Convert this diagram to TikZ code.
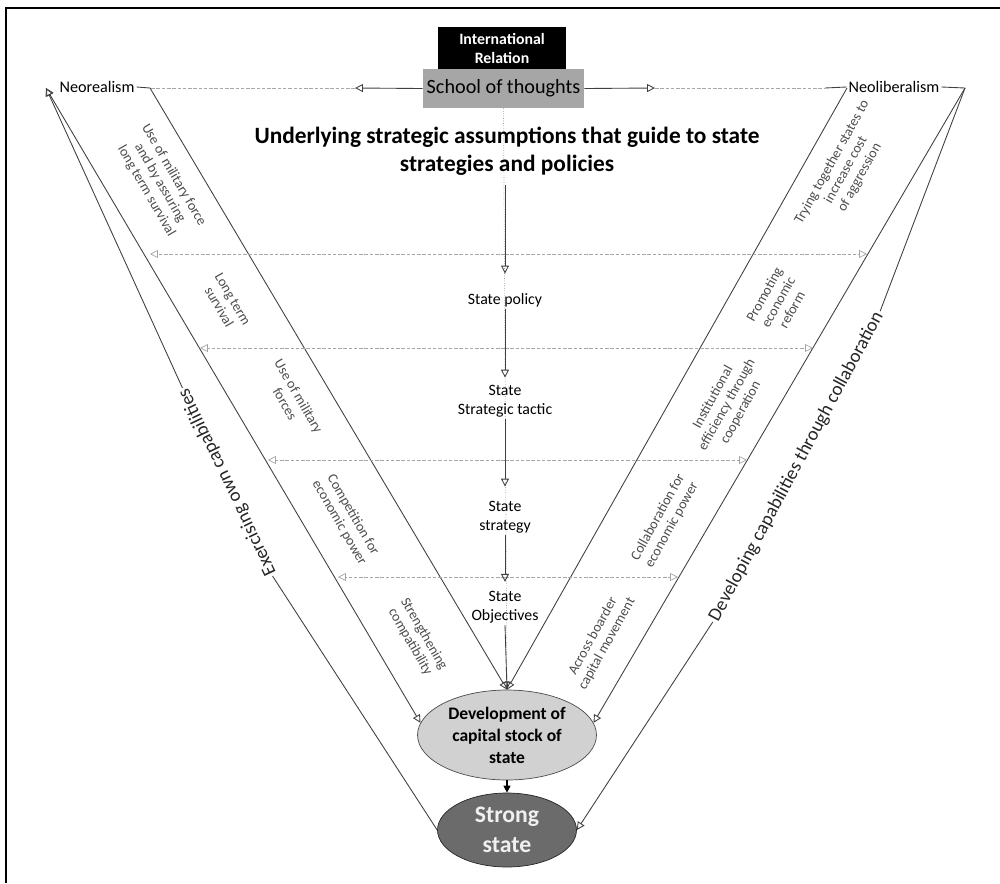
\documentclass[tikz,border=0pt]{standalone}
\usepackage{fontspec}
\setmainfont{Carlito}
\usepackage{tikz}
\usetikzlibrary{shapes,arrows,positioning,shapes.geometric,calc,arrows.meta}

\begin{document}
\begin{tikzpicture}[x=0.02cm, y=-0.02cm,
        conn/.style={draw=black!75, line width=0.5pt},
        tip/.style={-{Triangle[open, length=4.5pt, width=4.5pt]}},
        dashline/.style={draw=black!35, line width=0.4pt, dash pattern=on 2pt off 1pt},
        levelbox/.style={font=\fontsize{9}{10.8}\selectfont, align=center, inner sep=1pt},
        band/.style={font=\fontsize{8}{9}\selectfont, text=black!70, align=center, inner sep=1pt},
        bigband/.style={font=\fontsize{10.8}{13}\selectfont, text=black!85, inner sep=1pt},
        gap/.style={shorten >=#1}
    ]
            \useasboundingbox (0,0) rectangle (1000,883);
            \draw[line width=1.1pt] (6,883) -- (6,8) -- (1000,8);

            \node[fill=black, text=white, font=\bfseries\fontsize{9}{11.3}\selectfont, align=center, minimum width=2.56cm, minimum height=0.86cm, inner sep=0pt] (ir) at (502,48.5) {International\\Relation};
            \node[fill=black!35, font=\fontsize{11.5}{13}\selectfont, minimum width=3.22cm, minimum height=0.78cm, inner sep=0pt] (school) at (503.5,88.5) {School of thoughts};
            \node[font=\fontsize{9.2}{11}\selectfont, inner sep=1pt] (neoreal) at (97,87) {Neorealism};
            \node[font=\fontsize{9.2}{11}\selectfont, inner sep=1pt] (neolib) at (894,87) {Neoliberalism};

            \coordinate (nrL) at (46,88);
            \coordinate (nrR) at (150,88);
            \coordinate (nlL) at (847,88);
            \coordinate (nlR) at (965,88);
            \coordinate (sl) at (355,88);
            \coordinate (sr) at (655,88);
            \coordinate (nlA) at (825,88);
            \coordinate (top) at (505,185);

            \node[ellipse, draw=black!70, fill=black!18, minimum width=3.58cm, minimum height=1.8cm, inner sep=0pt, align=center, font=\bfseries\fontsize{10}{12.5}\selectfont] (capital) at (507,735) {Development of\\capital stock of\\state};
            \node[ellipse, draw=black!85, fill=black!58, text=white!94!black, minimum width=2.78cm, minimum height=1.48cm, inner sep=0pt, align=center, font=\bfseries\fontsize{13.5}{17}\selectfont] (strong) at (507,830) {Strong\\state};

            \draw[densely dotted, black!40] (school.south) -- (capital.north);

            \node[font=\bfseries\fontsize{13.3}{15.9}\selectfont, align=center] (assume) at (507,151) {Underlying strategic assumptions that guide to state\\strategies and policies};
            \node[levelbox] (policy) at (505,300) {State policy};
            \node[levelbox] (tactic) at (505,401) {State\\Strategic tactic};
            \node[levelbox] (strategy) at (505,517) {State\\strategy};
            \node[levelbox] (objective) at (505,607) {State\\Objectives};

            \node[band, rotate=-60] (force) at (160,183) {Use of military force\\and by assuring\\long term survival};
            \node[band, rotate=-60] (survive) at (226,303) {Long term\\survival};
            \node[band, rotate=-60] (military) at (292,400) {Use of military\\forces};
            \node[band, rotate=-60] (compete) at (346,519) {Competition for\\economic power};
            \node[band, rotate=-60] (strength) at (417,638) {Strengthening\\compatibility};

            \node[band, rotate=61] (trying) at (846,170) {Trying together states to\\increase cost\\of aggression};
            \node[band, rotate=61] (reform) at (778,302) {Promoting\\economic\\reform};
            \node[band, rotate=61] (institute) at (727,405) {Institutional\\efficiency through\\cooperation};
            \node[band, rotate=61] (collab) at (665,521) {Collaboration for\\economic power};
            \node[band, rotate=61] (border) at (600,640) {Across boarder\\capital movement};

            \node[bigband, rotate=115.6] (exercise) at (227.5,482) {Exercising own capabilities};
            \node[bigband, rotate=61.7] (develop) at (796.5,466.5) {Developing capabilities through collaboration};

            \draw[conn, tip] (school.west) -- (sl);
            \draw[dashline] (sl) -- (nrR);
            \draw[conn] (neoreal.east) -- (nrR);
            \draw[conn, tip] (school.east) -- (sr);
            \draw[dashline] (sr) -- (nlA);
            \draw[conn] (nlA) -- (neolib.west);
            \draw[conn] (neolib.east) -- (nlR);

            \draw[conn, tip] (nrR) -- (capital.north);
            \draw[conn, {Triangle[open, length=4.5pt, width=4.5pt]}-{Triangle[open, length=4.5pt, width=4.5pt]}] (nrL) -- (capital.172);
            \draw[conn, tip] (exercise.east) -- (nrL);
            \draw[conn] (exercise.west) -- (strong.west);

            \draw[conn, tip] (nlL) -- (capital.north);
            \draw[conn, tip] (nlR) -- (capital.8);
            \draw[conn] (nlR) -- (develop.east);
            \draw[conn, tip] (develop.west) -- (strong.east);

            \foreach \y/\l/\r in {254/150/867, 348/200/813, 460/268/747, 577/338/678} {
                \coordinate (row\y) at (505,\y);
                \coordinate (rowL\y) at (\l,\y);
                \coordinate (rowR\y) at (\r,\y);
                \draw[dashline, tip] (row\y) -- (rowL\y);
                \draw[dashline, tip] (row\y) -- (rowR\y);
            }

            \draw[conn, tip, gap=10pt] (top) -- (policy.north);
            \draw[conn, tip, gap=3pt] (policy.south) -- (tactic.north);
            \draw[conn, tip, gap=7pt] (tactic.south) -- (strategy.north);
            \draw[conn, tip, gap=4pt] (strategy.south) -- (objective.north);
            \draw[conn, tip] (objective.south) -- (capital.north);
            \draw[black, line width=0.6pt, -{Triangle[length=4pt, width=4pt]}] (capital.south) -- (strong.north);
        \end{tikzpicture}
\end{document}
